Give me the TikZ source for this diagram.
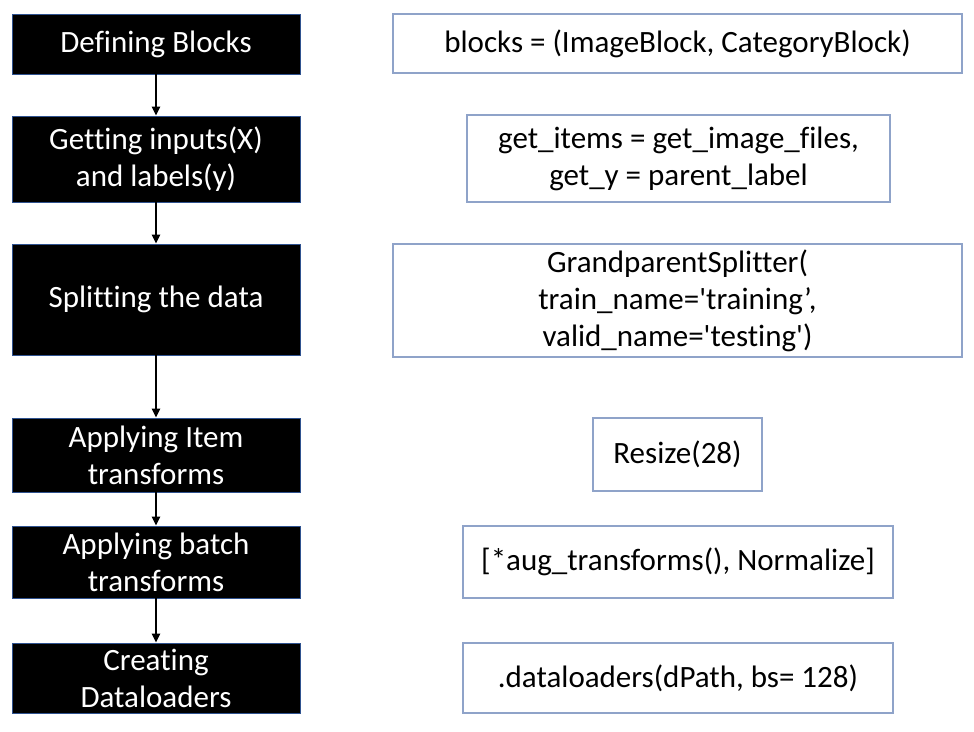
\documentclass[tikz,border=0pt]{standalone}
\usepackage{fontspec}
\setmainfont{Carlito}[Ligatures={TeXOff,NoCommon}]
\usetikzlibrary{arrows.meta}
\definecolor{stepedge}{RGB}{47,82,143}
\definecolor{codeedge}{RGB}{143,163,201}

\begin{document}
\begin{tikzpicture}[x=1pt, y=-1pt,
    stepbox/.style={fill=black, draw=stepedge, line width=0.8pt, text=white, align=center,
        minimum width=288pt, inner sep=0pt, font=\fontsize{31}{37}\selectfont},
    codebox/.style={fill=white, draw=codeedge, line width=1.5pt, align=center,
        inner sep=0pt, font=\fontsize{31}{37}\selectfont},
    flow/.style={-{Triangle[length=9pt, width=8pt]}, line width=2.2pt}]

    \useasboundingbox[fill=white] (0,0) rectangle (974,731);

    % steps on the left
    \node[stepbox, minimum height=60pt] (define) at (156,44) {Defining Blocks};
    \node[stepbox, minimum height=86pt] (inputs) at (156,159) {Getting inputs(X)\\and labels(y)};
    \node[stepbox, minimum height=111pt] (split) at (156,299.5) {Splitting the data};
    \node[stepbox, minimum height=74pt] (itemtf) at (156,455) {Applying Item\\transforms};
    \node[stepbox, minimum height=72pt] (batchtf) at (156,562) {Applying batch\\transforms};
    \node[stepbox, minimum height=70pt] (loaders) at (156,678) {Creating\\Dataloaders};

    % code on the right
    \node[codebox, minimum width=569pt, minimum height=59pt] (blockscode) at (677.5,43.5) {blocks = (ImageBlock, CategoryBlock)};
    \node[codebox, minimum width=423pt, minimum height=87pt] (itemscode) at (678.5,158.5) {get\_items = get\_image\_files,\\get\_y = parent\_label};
    \node[codebox, minimum width=569pt, minimum height=113pt] (splitcode) at (677.5,300.5) {GrandparentSplitter(\\train\_name='training’,\\valid\_name='testing')};
    \node[codebox, minimum width=169pt, minimum height=73pt] (resizecode) at (677.5,454.5) {Resize(28)};
    \node[codebox, minimum width=430pt, minimum height=72pt] (augcode) at (678,562) {[*aug\_transforms(), Normalize]};
    \node[codebox, minimum width=430pt, minimum height=70pt] (loadcode) at (678,678) {.dataloaders(dPath, bs= 128)};

    \draw[flow] (define) -- (inputs);
    \draw[flow] (inputs) -- (split);
    \draw[flow] (split) -- (itemtf);
    \draw[flow] (itemtf) -- (batchtf);
    \draw[flow] (batchtf) -- (loaders);
\end{tikzpicture}
\end{document}
